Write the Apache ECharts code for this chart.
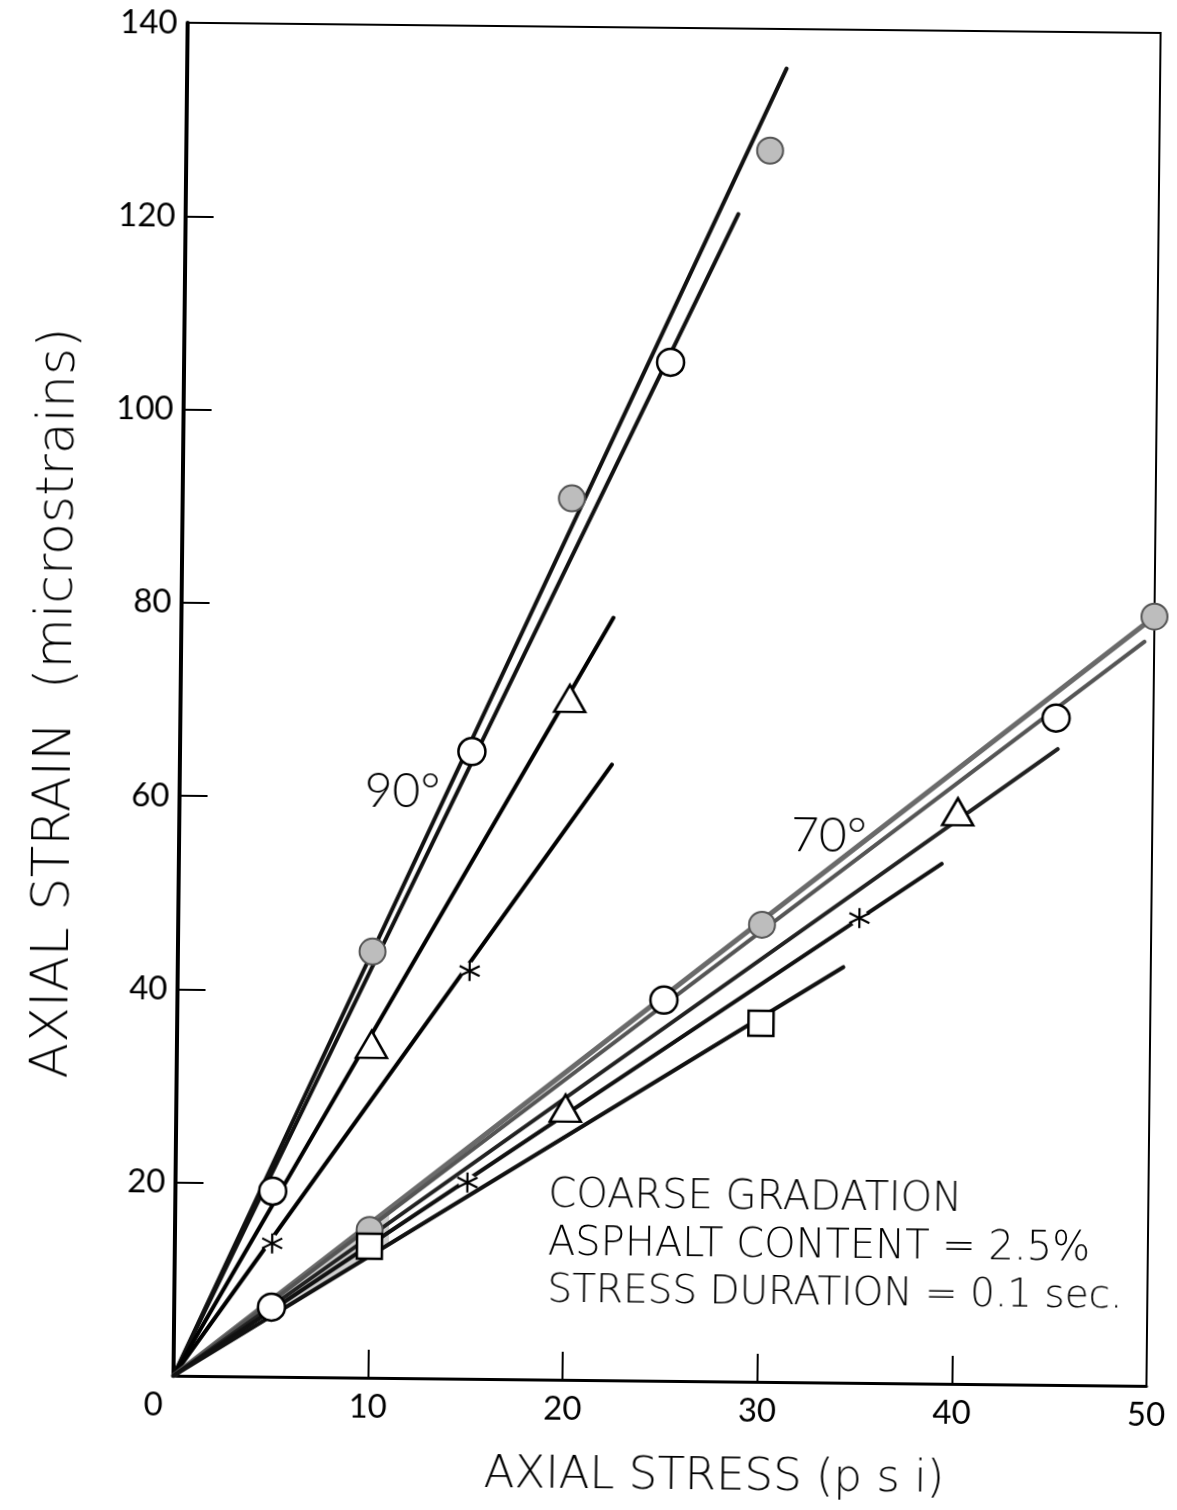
<!DOCTYPE html>
<html><head><meta charset="utf-8">
<script src="https://cdn.jsdelivr.net/npm/echarts/dist/echarts.min.js"></script>
<style>
html,body{margin:0;padding:0;background:#fff;overflow:hidden}
#c{width:1177px;height:1510px;transform:rotate(0.6deg);transform-origin:50% 50%;}
</style>
</head><body><div id="c"></div>
<script>
// ---- axes ----
const xMin = 0, xMax = 50, xStep = 10;
const yMin = 0, yMax = 140, yStep = 20;
const xTitle = 'AXIAL STRESS (p s i)';
const yTitle = 'AXIAL STRAIN  (microstrains)';

// ---- 90 degree tests (stress psi, strain microstrains) ----
const fill90X = [10, 20, 30];      const fill90Y = [44.1, 91.2, 127.4];
const open90X = [5, 15, 25];       const open90Y = [19.2, 64.9, 105.4];
const tri90X  = [10, 20];          const tri90Y  = [34.5, 70.5];
const ast90X  = [5, 15];           const ast90Y  = [13.8, 42.2];
// fitted lines: from origin to end
const fill90LineX = [0, 30.8];     const fill90LineY = [0, 135.9];
const open90LineX = [0, 28.4];     const open90LineY = [0, 120.8];
const tri90LineX  = [0, 22.2];     const tri90LineY  = [0, 78.9];
const ast90LineX  = [0, 22.2];     const ast90LineY  = [0, 63.7];

// ---- 70 degree tests ----
const fill70X = [10, 30, 50];      const fill70Y = [15.3, 47.3, 79.6];
const open70X = [5, 25, 45];       const open70Y = [7.2, 39.4, 69.0];
const tri70X  = [20, 40];          const tri70Y  = [28.1, 59.2];
const ast70X  = [15, 35];          const ast70Y  = [20.3, 48.1];
const sq70X   = [10, 30];          const sq70Y   = [13.6, 37.1];
const fill70LineX = [0, 50];       const fill70LineY = [0, 79.6];
const open70LineX = [0, 49.5];     const open70LineY = [0, 77.0];
const tri70LineX  = [0, 45.1];     const tri70LineY  = [0, 65.8];
const ast70LineX  = [0, 39.2];     const ast70LineY  = [0, 53.8];
const sq70LineX   = [0, 34.2];     const sq70LineY   = [0, 43.0];
// grey shaded wedge between the 70 degree lines near the origin
const wedgeX = [0, 11, 11];        const wedgeY = [0, 17.5, 13.8];

const notes = ['COARSE GRADATION', 'ASPHALT CONTENT = 2.5%', 'STRESS DURATION = 0.1 sec.'];
const angleLabels = ['90°', '70°'];

const FONT = 'Lato';
const TFONT = 'DejaVu Sans';
const zip = (xs, ys) => xs.map((x, i) => [x, ys[i]]);
const ASTER = 'path://M10,0L10,20M1.34,5L18.66,15M1.34,15L18.66,5';

function lineSeries(xs, ys, color, width) {
  return { type: 'line', data: zip(xs, ys), showSymbol: false, symbol: 'none', silent: true, z: 2,
    lineStyle: { color: color, width: width, cap: 'round' } };
}
function markSeries(xs, ys, kind) {
  const base = { type: 'scatter', data: zip(xs, ys), silent: true, z: 5 };
  if (kind === 'open') return Object.assign(base, { symbol: 'circle', symbolSize: 27,
    itemStyle: { color: '#fff', borderColor: '#000', borderWidth: 2.5, opacity: 1 } });
  if (kind === 'fill') return Object.assign(base, { symbol: 'circle', symbolSize: 26,
    itemStyle: { color: '#bdbdbd', borderColor: '#555', borderWidth: 2, opacity: 1 } });
  if (kind === 'tri') return Object.assign(base, { symbol: 'triangle', symbolSize: [31, 27],
    itemStyle: { color: '#fff', borderColor: '#000', borderWidth: 2.5, opacity: 1 } });
  if (kind === 'sq') return Object.assign(base, { symbol: 'rect', symbolSize: 25,
    itemStyle: { color: '#fff', borderColor: '#000', borderWidth: 2.5, opacity: 1 } });
  if (kind === 'astbg') return Object.assign(base, { symbol: 'circle', symbolSize: 18, z: 4,
    itemStyle: { color: '#fff', borderWidth: 0, opacity: 1 } });
  if (kind === 'ast') return Object.assign(base, { symbol: ASTER, symbolSize: 20, z: 6,
    itemStyle: { color: 'rgba(0,0,0,0)', borderColor: '#000', borderWidth: 2.2, opacity: 1 } });
}

const chart = echarts.init(document.getElementById('c'), null, { renderer: 'canvas' });
const labelStyle = { color: '#000', fontFamily: FONT, fontWeight: 400, fontSize: 33 };

chart.setOption({
  backgroundColor: '#fff',
  animation: false,
  grid: { left: 180, right: 24, top: 27, bottom: 130, show: true, borderColor: '#000', borderWidth: 2, backgroundColor: 'transparent' },
  xAxis: {
    type: 'value', min: xMin, max: xMax, interval: xStep,
    name: xTitle, nameLocation: 'middle', nameGap: 74,
    nameTextStyle: { color: '#000', fontFamily: TFONT, fontWeight: 200, fontSize: 45, padding: [0, 0, 0, 110] },
    axisLine: { show: true, lineStyle: { color: '#000', width: 3 } },
    axisTick: { show: true, inside: true, length: 28, lineStyle: { color: '#000', width: 2 } },
    splitLine: { show: false },
    axisLabel: Object.assign({ margin: 13,
      formatter: v => v === 0 ? '{z|0}' : String(v),
      rich: { z: { color: '#000', fontFamily: FONT, fontWeight: 400, fontSize: 33, padding: [0, 40, 0, 0] } } }, labelStyle)
  },
  yAxis: {
    type: 'value', min: yMin, max: yMax, interval: yStep,
    name: yTitle, nameLocation: 'middle', nameGap: 98,
    nameTextStyle: { color: '#000', fontFamily: TFONT, fontWeight: 200, fontSize: 52, padding: [0, 10, 0, 0] },
    axisLine: { show: true, lineStyle: { color: '#000', width: 4 } },
    axisTick: { show: true, inside: true, length: 28, lineStyle: { color: '#000', width: 2 } },
    splitLine: { show: false },
    axisLabel: Object.assign({ margin: 10, showMinLabel: false }, labelStyle)
  },
  graphic: [
    { type: 'text', left: 365, top: 770, silent: true,
      style: { text: angleLabels[0], font: '300 48px ' + FONT, fill: '#000' } },
    { type: 'text', left: 792, top: 810, silent: true,
      style: { text: angleLabels[1], font: '300 48px ' + FONT, fill: '#000' } },
    { type: 'text', left: 553, top: 1177, silent: true,
      style: { text: notes[0], font: '200 40px "' + TFONT + '"', fill: '#000' } },
    { type: 'text', left: 553, top: 1225, silent: true,
      style: { text: notes[1], font: '200 40px "' + TFONT + '"', fill: '#000' } },
    { type: 'text', left: 553, top: 1272, silent: true,
      style: { text: notes[2], font: '200 39px "' + TFONT + '"', fill: '#000' } }
  ],
  series: [
    { type: 'custom', silent: true, z: 1, data: [0],
      renderItem: function (params, api) {
        const pts = wedgeX.map((x, i) => api.coord([x, wedgeY[i]]));
        return { type: 'polygon', shape: { points: pts }, style: { fill: '#cfcfcf', stroke: null } };
      } },
    lineSeries(fill90LineX, fill90LineY, '#111', 4),
    lineSeries(open90LineX, open90LineY, '#111', 4),
    lineSeries(tri90LineX, tri90LineY, '#000', 4),
    lineSeries(ast90LineX, ast90LineY, '#000', 4),
    lineSeries(fill70LineX, fill70LineY, '#6a6a6a', 5),
    lineSeries(open70LineX, open70LineY, '#555', 4),
    lineSeries(tri70LineX, tri70LineY, '#222', 4),
    lineSeries(ast70LineX, ast70LineY, '#111', 4),
    lineSeries(sq70LineX, sq70LineY, '#111', 4),
    markSeries(fill90X, fill90Y, 'fill'),
    markSeries(open90X, open90Y, 'open'),
    markSeries(tri90X, tri90Y, 'tri'),
    markSeries(ast90X, ast90Y, 'astbg'),
    markSeries(ast90X, ast90Y, 'ast'),
    markSeries(fill70X, fill70Y, 'fill'),
    markSeries(open70X, open70Y, 'open'),
    markSeries(tri70X, tri70Y, 'tri'),
    markSeries(ast70X, ast70Y, 'astbg'),
    markSeries(ast70X, ast70Y, 'ast'),
    markSeries(sq70X, sq70Y, 'sq')
  ]
});
</script>
</body></html>
